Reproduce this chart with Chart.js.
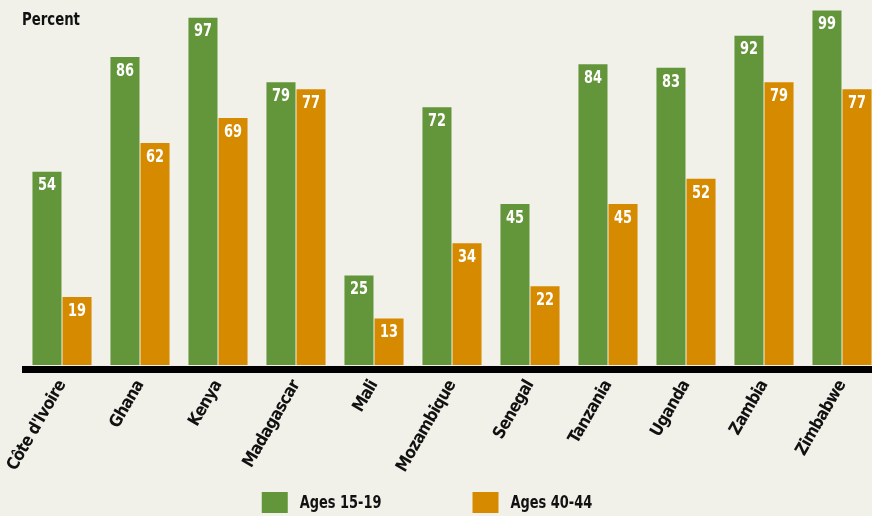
<!DOCTYPE html>
<html>
<head>
<meta charset="utf-8">
<script src="https://cdn.jsdelivr.net/npm/chart.js@4.4.0/dist/chart.umd.min.js"></script>
<style>
  html, body { margin: 0; padding: 0; background: #f1f1ea; }
  #wrap { width: 872px; height: 516px; overflow: hidden; }
</style>
</head>
<body>
<div id="wrap"><canvas id="chart" width="881" height="516"></canvas></div>
<script>
// data
const countries = ["Côte d'Ivoire", 'Ghana', 'Kenya', 'Madagascar', 'Mali', 'Mozambique',
                   'Senegal', 'Tanzania', 'Uganda', 'Zambia', 'Zimbabwe'];
const ages1519 = [54, 86, 97, 79, 25, 72, 45, 84, 83, 92, 99];
const ages4044 = [19, 62, 69, 77, 13, 34, 22, 45, 52, 79, 77];
const seriesNames = ['Ages 15-19', 'Ages 40-44'];
const yTitle = 'Percent';

const green = '#63953a';
const orange = '#d68a00';
const font = "'DejaVu Sans Condensed', 'Open Sans', sans-serif";

// squeeze text sideways a bit, the original uses a condensed face
function narrowText(ctx, text, x, y, squeeze) {
    ctx.save();
    ctx.translate(x, y);
    ctx.scale(squeeze, 1);
    ctx.fillText(text, 0, 0);
    ctx.restore();
}

// white numbers at the top of each bar
const barValues = {
    id: 'barValues',
    afterDatasetsDraw(chart) {
        const ctx = chart.ctx;
        ctx.save();
        ctx.fillStyle = '#ffffff';
        ctx.font = 'bold 18px ' + font;
        ctx.textAlign = 'center';
        ctx.textBaseline = 'middle';
        chart.data.datasets.forEach((ds, i) => {
            chart.getDatasetMeta(i).data.forEach((bar, j) => {
                narrowText(ctx, String(ds.data[j]), bar.x, bar.y + 14, 0.8);
            });
        });
        ctx.restore();
    }
};

// tighter letters for the rotated country names
const tightTicks = {
    id: 'tightTicks',
    beforeDraw(chart) { chart.ctx.letterSpacing = '-0.7px'; },
    afterDatasetsDraw(chart) { chart.ctx.letterSpacing = '0px'; }
};

// thick base line, "Percent" title and the legend
const decorations = {
    id: 'decorations',
    afterDraw(chart) {
        const ctx = chart.ctx;
        const area = chart.chartArea;
        ctx.save();
        ctx.letterSpacing = '0px';
        ctx.fillStyle = '#000000';
        ctx.fillRect(22, area.bottom + 1, chart.width, 7);

        ctx.fillStyle = '#111111';
        ctx.font = 'bold 18px ' + font;
        ctx.textAlign = 'left';
        ctx.textBaseline = 'middle';
        narrowText(ctx, yTitle, 22, 20, 0.82);

        // legend
        const sq = 0.8;
        ctx.font = 'bold 18px ' + font;
        const boxW = 26, boxH = 21, textGap = 12, itemGap = 91;
        const widths = chart.data.datasets.map(ds => boxW + textGap + ctx.measureText(ds.label).width * sq);
        const total = widths.reduce((a, b) => a + b, 0) + itemGap * (widths.length - 1);
        let x = 427 - total / 2;
        const y = 492;
        chart.data.datasets.forEach((ds, i) => {
            ctx.fillStyle = ds.backgroundColor;
            ctx.fillRect(x, y, boxW, boxH);
            ctx.fillStyle = '#111111';
            narrowText(ctx, ds.label, x + boxW + textGap, y + boxH / 2 + 1, sq);
            x += widths[i] + itemGap;
        });
        ctx.restore();
    }
};

new Chart(document.getElementById('chart'), {
    type: 'bar',
    data: {
        labels: countries,
        datasets: [
            { label: seriesNames[0], data: ages1519, backgroundColor: green },
            { label: seriesNames[1], data: ages4044, backgroundColor: orange }
        ]
    },
    options: {
        responsive: false,
        animation: false,
        layout: { padding: { top: 7, left: 23, right: 0, bottom: 0 } },
        datasets: {
            bar: { categoryPercentage: 0.77, barPercentage: 0.967 }
        },
        plugins: {
            legend: { display: false },
            tooltip: { enabled: false }
        },
        scales: {
            x: {
                grid: { display: false },
                border: { display: false },
                ticks: {
                    minRotation: 60,
                    maxRotation: 60,
                    padding: 4,
                    color: '#111111',
                    font: { family: font, size: 17, weight: 'bold' }
                },
                afterFit(scale) {
                    scale.height = 151;
                    scale.paddingLeft = 0;
                    scale.paddingRight = 0;
                }
            },
            y: {
                display: false,
                min: 0,
                max: 100
            }
        }
    },
    plugins: [tightTicks, barValues, decorations]
});
</script>
</body>
</html>
